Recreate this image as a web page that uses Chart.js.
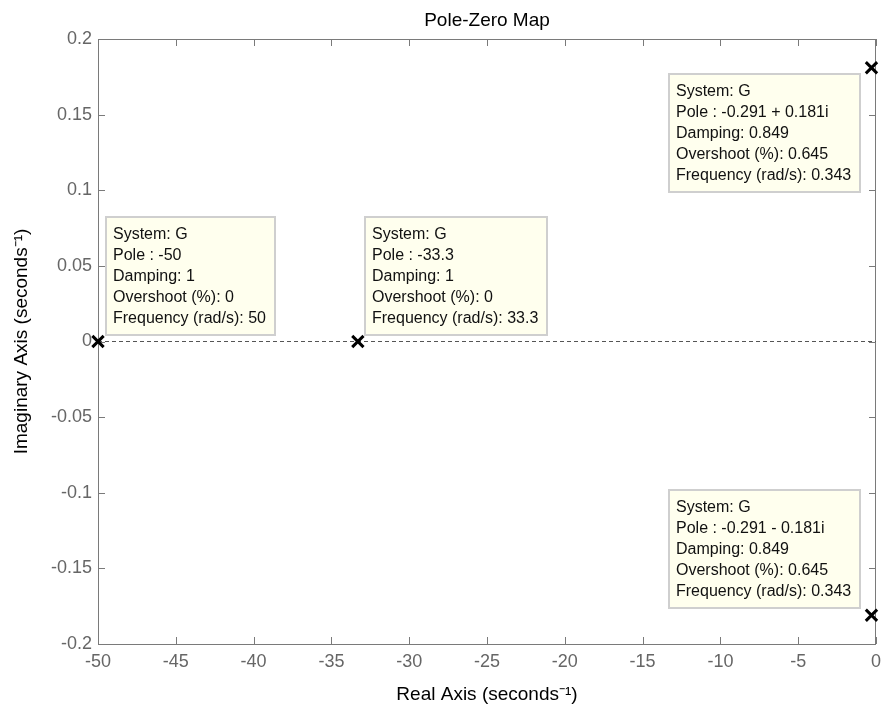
<!DOCTYPE html>
<html>
  <head>
    <style>
      body {
        margin: 0;
        background: #fff;
        font-family: "Liberation Sans", Arial, sans-serif;
      }
    </style>
    <script src="https://cdn.jsdelivr.net/npm/chart.js"></script>
  </head>
  <body>
    <canvas id="pzChart" width="882" height="711"></canvas>
    <script>
      // poles of G (real, imaginary) and their data tip values
      var poleRe = [-50, -33.3, -0.291, -0.291];
      var poleIm = [0, 0, 0.181, -0.181];
      var damping = [1, 1, 0.849, 0.849];
      var overshoot = [0, 0, 0.645, 0.645];
      var frequency = [50, 33.3, 0.343, 0.343];
      var systemName = 'G';

      var xRange = [-50, 0];
      var yRange = [-0.2, 0.2];
      var xTicks = [-50, -45, -40, -35, -30, -25, -20, -15, -10, -5, 0];
      var yTicks = [-0.2, -0.15, -0.1, -0.05, 0, 0.05, 0.1, 0.15, 0.2];

      // where each data tip sits relative to its pole
      var tipPlace = ['ne', 'ne', 'sw', 'nw'];

      var FONT = '"Liberation Sans", Arial, sans-serif';

      function poleLabel(i) {
        var re = poleRe[i], im = poleIm[i];
        if (im === 0) return String(re);
        return re + (im > 0 ? ' + ' : ' - ') + Math.abs(im) + 'i';
      }

      function tipLines(i) {
        return [
          'System: ' + systemName,
          'Pole : ' + poleLabel(i),
          'Damping: ' + damping[i],
          'Overshoot (%): ' + overshoot[i],
          'Frequency (rad/s): ' + frequency[i]
        ];
      }

      // axes box with inward ticks on all four sides
      var axisBox = {
        id: 'axisBox',
        beforeDatasetsDraw: function(chart) {
          var ctx = chart.ctx, a = chart.chartArea;
          var xs = chart.scales.x, ys = chart.scales.y;
          var len = 7;
          ctx.save();
          ctx.strokeStyle = '#7a7a7a';
          ctx.lineWidth = 1;
          ctx.beginPath();
          ctx.rect(Math.round(a.left) + 0.5, Math.round(a.top) + 0.5,
                   Math.round(a.right - a.left) - 1, Math.round(a.bottom - a.top));
          xTicks.forEach(function(v) {
            var px = Math.round(xs.getPixelForValue(v)) + 0.5;
            ctx.moveTo(px, a.bottom); ctx.lineTo(px, a.bottom - len);
            ctx.moveTo(px, a.top); ctx.lineTo(px, a.top + len);
          });
          yTicks.forEach(function(v) {
            var py = Math.round(ys.getPixelForValue(v)) + 0.5;
            ctx.moveTo(a.left, py); ctx.lineTo(a.left + len, py);
            ctx.moveTo(a.right, py); ctx.lineTo(a.right - len, py);
          });
          ctx.stroke();
          ctx.restore();
        }
      };

      var dataTips = {
        id: 'dataTips',
        afterDatasetsDraw: function(chart) {
          var ctx = chart.ctx;
          var xs = chart.scales.x, ys = chart.scales.y;
          var lineH = 21, padX = 8, boxH = 120;
          ctx.save();
          ctx.font = '16px ' + FONT;
          poleRe.forEach(function(re, i) {
            var px = xs.getPixelForValue(re);
            var py = ys.getPixelForValue(poleIm[i]);
            var lines = tipLines(i);
            var w = 0;
            lines.forEach(function(t) { w = Math.max(w, ctx.measureText(t).width); });
            var boxW = Math.round(w + 2 * padX + 2);
            var left, top;
            var place = tipPlace[i];
            if (place === 'ne') { left = px + 6; top = py - 6 - boxH; }
            else if (place === 'sw') { left = px - 10 - boxW; top = py + 5; }
            else { left = px - 10 - boxW; top = py - 6 - boxH; }
            left = Math.max(left, chart.chartArea.left + 7);
            left = Math.round(left); top = Math.round(top);
            ctx.fillStyle = '#ffffee';
            ctx.fillRect(left, top, boxW, boxH);
            ctx.strokeStyle = '#cfcfcf';
            ctx.lineWidth = 2;
            ctx.strokeRect(left + 1, top + 1, boxW - 2, boxH - 2);
            ctx.fillStyle = '#111';
            ctx.textBaseline = 'middle';
            ctx.textAlign = 'left';
            lines.forEach(function(t, k) {
              ctx.fillText(t, left + padX, top + 19 + k * lineH);
            });
          });
          ctx.restore();
        }
      };

      var points = poleRe.map(function(re, i) { return { x: re, y: poleIm[i] }; });

      new Chart(document.getElementById('pzChart'), {
        type: 'scatter',
        data: {
          datasets: [{
            label: 'Poles',
            data: points,
            pointStyle: 'crossRot',
            pointRadius: 8,
            pointBorderWidth: 3,
            borderColor: '#000',
            backgroundColor: '#000',
            clip: false
          }, {
            type: 'line',
            label: 'Real axis',
            data: [{ x: xRange[0], y: 0 }, { x: xRange[1], y: 0 }],
            borderColor: '#555',
            borderWidth: 1,
            borderDash: [4, 3],
            pointRadius: 0,
            fill: false
          }]
        },
        options: {
          responsive: false,
          animation: false,
          events: [],
          // no extra room for the markers, they sit on the box edge
          layout: { autoPadding: false, padding: { left: 0, right: 6, top: 0, bottom: 0 } },
          plugins: {
            legend: { display: false },
            tooltip: { enabled: false },
            title: {
              display: true,
              fullSize: false,
              text: 'Pole-Zero Map',
              color: '#000',
              font: { family: FONT, size: 19, weight: 'normal' },
              padding: { top: 9, bottom: 7.2 }
            }
          },
          scales: {
            x: {
              type: 'linear',
              min: xRange[0],
              max: xRange[1],
              afterBuildTicks: function(s) { s.ticks = xTicks.map(function(v) { return { value: v }; }); },
              afterFit: function(s) { s.height = 67; },
              grid: { display: false, drawTicks: false },
              border: { display: false },
              ticks: {
                autoSkip: false,
                maxRotation: 0,
                padding: 0,
                color: '#666',
                font: { family: FONT, size: 18, lineHeight: 2 },
                callback: function(v) { return String(v); }
              },
              title: {
                display: true,
                text: 'Real Axis (seconds\u207B\u00B9)',
                color: '#000',
                font: { family: FONT, size: 19 },
                padding: { top: 0, bottom: 4.6 }
              }
            },
            y: {
              type: 'linear',
              min: yRange[0],
              max: yRange[1],
              afterBuildTicks: function(s) { s.ticks = yTicks.map(function(v) { return { value: v }; }); },
              afterFit: function(s) { s.width = 98; s.paddingTop = 0; s.paddingBottom = 0; },
              grid: { display: false, drawTicks: false },
              border: { display: false },
              ticks: {
                autoSkip: false,
                padding: 6,
                color: '#666',
                font: { family: FONT, size: 18 },
                callback: function(v) { return String(Number(v.toFixed(2))); }
              },
              title: {
                display: true,
                text: 'Imaginary Axis (seconds\u207B\u00B9)',
                color: '#000',
                font: { family: FONT, size: 19 },
                padding: { top: 10.6, bottom: 0 }
              }
            }
          }
        },
        plugins: [axisBox, dataTips]
      });
    </script>
  </body>
</html>
